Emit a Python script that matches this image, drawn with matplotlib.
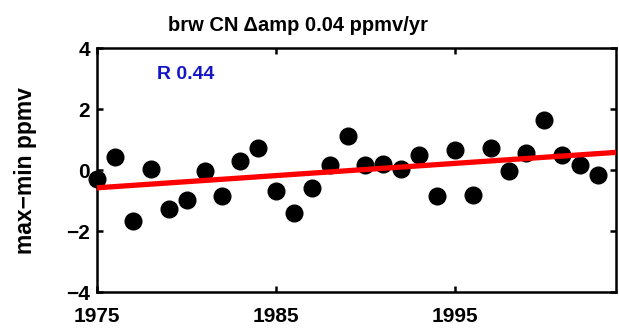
import numpy as np
import matplotlib.pyplot as plt

plt.rcParams['font.family'] = ['Liberation Sans', 'DejaVu Sans']
plt.rcParams['font.weight'] = 'bold'

years = np.arange(1975, 2004)
amp = [-0.29, 0.43, -1.66, 0.05, -1.26, -0.97, -0.02, -0.86, 0.29, 0.73,
       -0.67, -1.41, -0.59, 0.16, 1.13, 0.16, 0.21, 0.02, 0.49, -0.86,
       0.65, -0.83, 0.73, -0.04, 0.56, 1.64, 0.51, 0.18, -0.15]
trend_years = [1975, 2004]
trend_vals = [-0.58, 0.58]
xticks = [1975, 1985, 1995]
yticks = [-4, -2, 0, 2, 4]

fig = plt.figure(figsize=(6.19, 3.29), dpi=100)
ax = fig.add_axes([0.157, 0.112, 0.838, 0.742])

ax.plot(years, amp, 'o', color='black', markersize=12, clip_on=False, zorder=3)
ax.plot(trend_years, trend_vals, color='red', linewidth=3.8, zorder=4)

ax.set_xlim(1975, 2004)
ax.set_ylim(-4, 4)
ax.set_xticks(xticks)
ax.set_yticks(yticks)
ax.tick_params(direction='in', length=4, width=1.8, labelsize=15,
               top=True, right=True)
ax.tick_params(axis='x', pad=11)
ax.tick_params(axis='y', pad=5)
for s in ax.spines.values():
    s.set_linewidth(1.8)

ax.set_ylabel('max\u2212min ppmv', fontsize=16.5, fontweight='bold', labelpad=21)
ax.set_title('brw CN \u0394amp 0.04 ppmv/yr', fontsize=14.5, fontweight='bold',
             pad=12, x=0.387)
ax.text(0.116, 0.893, 'R 0.44', transform=ax.transAxes, color='#1414c8',
        fontsize=14, fontweight='bold', va='center')

fig.savefig('out.png', dpi=100)
